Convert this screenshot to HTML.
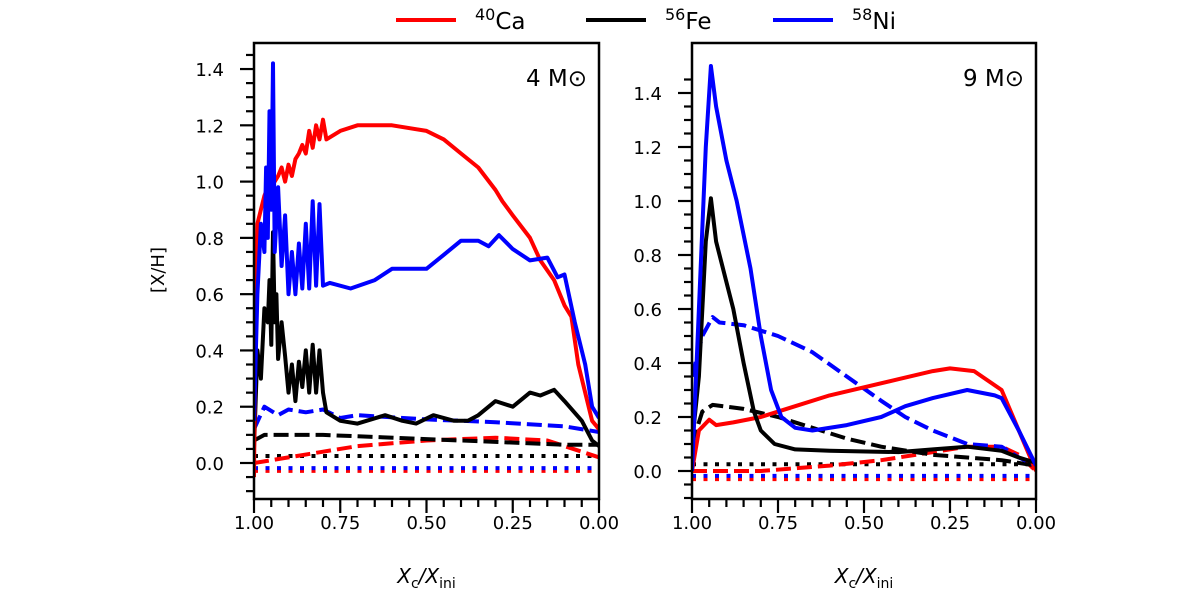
<!DOCTYPE html>
<html><head><meta charset="utf-8"><style>
body{margin:0;background:#fff;}
svg text{font-family:"DejaVu Sans","Liberation Sans",sans-serif;}
</style></head><body>
<svg id="chart" width="1200" height="596" viewBox="0 0 1200 596"></svg>
<script>
// ---- data ----
const xTicks=[1.00,0.75,0.50,0.25,0.00];
const xTickLabels=["1.00","0.75","0.50","0.25","0.00"];
const yTicks=[0,0.2,0.4,0.6,0.8,1.0,1.2,1.4];
const yTickLabels=["0.0","0.2","0.4","0.6","0.8","1.0","1.2","1.4"];
// 4 Msun panel
const L_caSolidX=[1.0,0.995,0.99,0.98,0.97,0.96,0.95,0.94,0.93,0.92,0.91,0.9,0.89,0.88,0.87,0.86,0.85,0.84,0.83,0.82,0.81,0.8,0.79,0.75,0.7,0.6,0.5,0.45,0.4,0.35,0.3,0.28,0.25,0.2,0.17,0.13,0.1,0.08,0.06,0.04,0.02,0.0];
const L_caSolidY=[-0.05,0.6,0.85,0.9,0.95,0.98,1.0,1.0,1.02,1.05,1.0,1.06,1.02,1.08,1.1,1.13,1.1,1.18,1.12,1.2,1.15,1.22,1.15,1.18,1.2,1.2,1.18,1.15,1.1,1.05,0.97,0.93,0.88,0.8,0.72,0.65,0.56,0.52,0.35,0.25,0.15,0.12];
const L_feSolidX=[1.0,0.99,0.98,0.97,0.96,0.955,0.95,0.945,0.94,0.935,0.93,0.92,0.91,0.9,0.89,0.88,0.87,0.86,0.85,0.84,0.83,0.82,0.81,0.8,0.79,0.75,0.7,0.62,0.57,0.53,0.48,0.42,0.38,0.35,0.3,0.25,0.2,0.17,0.13,0.1,0.05,0.02,0.0];
const L_feSolidY=[0.05,0.4,0.3,0.55,0.5,0.65,0.42,0.82,0.5,0.6,0.37,0.5,0.38,0.25,0.35,0.22,0.36,0.27,0.4,0.25,0.42,0.25,0.4,0.25,0.18,0.15,0.14,0.17,0.15,0.14,0.17,0.15,0.15,0.17,0.22,0.2,0.25,0.24,0.26,0.22,0.15,0.08,0.06];
const L_niSolidX=[1.0,0.99,0.98,0.97,0.965,0.96,0.955,0.95,0.945,0.94,0.93,0.92,0.91,0.9,0.89,0.88,0.87,0.86,0.85,0.84,0.83,0.82,0.81,0.8,0.78,0.72,0.65,0.6,0.5,0.45,0.4,0.35,0.32,0.29,0.25,0.2,0.15,0.12,0.1,0.07,0.04,0.02,0.0];
const L_niSolidY=[0.15,0.6,0.85,0.75,1.05,0.8,1.25,0.9,1.42,0.75,0.98,0.7,0.88,0.6,0.75,0.6,0.78,0.62,0.85,0.62,0.93,0.63,0.92,0.63,0.64,0.62,0.65,0.69,0.69,0.74,0.79,0.79,0.77,0.81,0.76,0.72,0.73,0.66,0.67,0.5,0.35,0.2,0.16];
const L_niDashX=[1.0,0.97,0.93,0.9,0.85,0.8,0.75,0.7,0.5,0.3,0.1,0.0];
const L_niDashY=[0.12,0.2,0.17,0.19,0.18,0.19,0.16,0.17,0.155,0.145,0.13,0.11];
const L_feDashX=[1.0,0.97,0.8,0.5,0.3,0.1,0.0];
const L_feDashY=[0.08,0.1,0.1,0.085,0.075,0.065,0.065];
const L_caDashX=[1.0,0.9,0.8,0.7,0.5,0.3,0.15,0.05,0.0];
const L_caDashY=[0.0,0.02,0.04,0.06,0.08,0.09,0.08,0.04,0.02];
const L_feDot=0.025, L_niDot=-0.018, L_caDot=-0.028;
// 9 Msun panel
const R_niSolidX=[1.0,0.98,0.96,0.945,0.93,0.9,0.87,0.83,0.8,0.77,0.74,0.7,0.65,0.55,0.45,0.38,0.3,0.2,0.12,0.1,0.05,0.0];
const R_niSolidY=[0.0,0.6,1.2,1.5,1.35,1.15,1.0,0.75,0.5,0.3,0.2,0.16,0.15,0.17,0.2,0.24,0.27,0.3,0.28,0.27,0.15,0.02];
const R_feSolidX=[1.0,0.98,0.96,0.945,0.93,0.9,0.88,0.85,0.82,0.8,0.76,0.7,0.6,0.4,0.3,0.2,0.1,0.05,0.0];
const R_feSolidY=[0.1,0.35,0.85,1.01,0.85,0.7,0.6,0.4,0.22,0.15,0.1,0.08,0.075,0.07,0.08,0.09,0.075,0.05,0.03];
const R_caSolidX=[1.0,0.98,0.95,0.93,0.88,0.8,0.7,0.6,0.4,0.3,0.25,0.18,0.1,0.05,0.0];
const R_caSolidY=[0.0,0.15,0.19,0.17,0.18,0.2,0.24,0.28,0.34,0.37,0.38,0.37,0.3,0.15,0.0];
const R_niDashX=[1.0,0.97,0.94,0.92,0.85,0.75,0.65,0.55,0.45,0.38,0.3,0.2,0.1,0.05,0.0];
const R_niDashY=[0.35,0.5,0.57,0.55,0.54,0.5,0.44,0.35,0.26,0.2,0.15,0.1,0.09,0.05,0.02];
const R_feDashX=[1.0,0.97,0.94,0.85,0.75,0.65,0.55,0.45,0.3,0.2,0.1,0.0];
const R_feDashY=[0.1,0.22,0.245,0.23,0.2,0.16,0.12,0.09,0.06,0.05,0.04,0.02];
const R_caDashX=[1.0,0.8,0.6,0.45,0.3,0.2,0.1,0.05,0.0];
const R_caDashY=[0.0,0.0,0.02,0.04,0.07,0.09,0.09,0.06,0.0];
const R_feDot=0.025, R_niDot=-0.018, R_caDot=-0.03;

const NS="http://www.w3.org/2000/svg";
const svg=document.getElementById('chart');
function mk(tag,attrs,parent){const e=document.createElementNS(NS,tag);for(const k in attrs)e.setAttribute(k,attrs[k]);(parent||svg).appendChild(e);return e;}
const RED="#ff0000",BLK="#000000",BLU="#0000ff";

function panel(p){
  const g=mk('g',{});
  
  
  const sx=v=>p.x0+(1-v)*(p.x1-p.x0);
  const sy=v=>p.y0-v*p.ppu;
  const clipId=p.name+'-clip';
  const cp=mk('clipPath',{id:clipId},g);
  mk('rect',{x:p.x0,y:p.top,width:p.x1-p.x0,height:p.bot-p.top},cp);
  const lines=mk('g',{'clip-path':'url(#'+clipId+')'},g);
  
  
  function path(xs,ys,color,dash,name){
    let d='';xs.forEach((x,i)=>{d+=(i?'L':'M')+sx(x).toFixed(1)+','+sy(ys[i]).toFixed(1);});
    const e=mk('path',{d:d,fill:'none',stroke:color,'stroke-width':4,'stroke-linejoin':'round'},lines);
    if(dash)e.setAttribute('stroke-dasharray',dash);
    
    
  }
  const dot=(v,c,n)=>path([1,0],[v,v],c,'4,7.5',n);
  dot(p.caDot,RED,'ca-dotted');dot(p.niDot,BLU,'ni-dotted');dot(p.feDot,BLK,'fe-dotted');
  path(p.caDX,p.caDY,RED,'15,6','ca-dashed');
  path(p.feDX,p.feDY,BLK,'15,6','fe-dashed');
  path(p.niDX,p.niDY,BLU,'15,6','ni-dashed');
  p.order.forEach(s=>path(s[0],s[1],s[2],null,s[3]));
  const fr=mk('rect',{x:p.x0,y:p.top,width:p.x1-p.x0,height:p.bot-p.top,fill:'none',stroke:'#000','stroke-width':2.5},g);
  
  for(let v=-0.1;v<=1.5;v+=0.05){
    const vv=Math.round(v*100)/100;const y=sy(vv);
    if(y<p.top-0.5||y>p.bot+0.5)continue;
    const major=Math.abs(vv*10/2-Math.round(vv*10/2))<1e-6;
    mk('line',{x1:p.x0,x2:p.x0-(major?14:8),y1:y,y2:y,stroke:'#000','stroke-width':2.2},g);
  }
  yTicks.forEach((v,i)=>{const t=mk('text',{x:p.x0-30,y:sy(v)+7,'text-anchor':'end','font-size':18},g);t.textContent=yTickLabels[i];
    });
  for(let k=0;k<=20;k++){const v=k/20;const x=sx(v);const major=k%5==0;
    mk('line',{x1:x,x2:x,y1:p.bot,y2:p.bot+(major?14:8),stroke:'#000','stroke-width':2.2},g);}
  xTicks.forEach((v,i)=>{const t=mk('text',{x:sx(v),y:p.bot+30,'text-anchor':'middle','font-size':18},g);t.textContent=xTickLabels[i];
    });
  const xl=mk('text',{x:(p.x0+p.x1)/2,y:583,'text-anchor':'middle','font-size':20,'font-style':'italic'},g);
  xl.innerHTML='X<tspan font-size="14" dy="5" font-style="normal">c</tspan><tspan dy="-5">/X</tspan><tspan font-size="14" dy="5" font-style="normal">ini</tspan>';
  
  const lab=mk('text',{x:p.x1-12,y:86,'text-anchor':'end','font-size':23},g);
  lab.textContent=p.label;
}
panel({name:'panel-4msun',x0:254,x1:599,top:43,bot:499,y0:463,ppu:281.4,label:'4 M\u2299',
  caDot:L_caDot,niDot:L_niDot,feDot:L_feDot,caDX:L_caDashX,caDY:L_caDashY,feDX:L_feDashX,feDY:L_feDashY,niDX:L_niDashX,niDY:L_niDashY,
  order:[[L_feSolidX,L_feSolidY,BLK,'fe-solid'],[L_caSolidX,L_caSolidY,RED,'ca-solid'],[L_niSolidX,L_niSolidY,BLU,'ni-solid']]});
panel({name:'panel-9msun',x0:692,x1:1036,top:43,bot:499,y0:471,ppu:270,label:'9 M\u2299',
  caDot:R_caDot,niDot:R_niDot,feDot:R_feDot,caDX:R_caDashX,caDY:R_caDashY,feDX:R_feDashX,feDY:R_feDashY,niDX:R_niDashX,niDY:R_niDashY,
  order:[[R_caSolidX,R_caSolidY,RED,'ca-solid'],[R_feSolidX,R_feSolidY,BLK,'fe-solid'],[R_niSolidX,R_niSolidY,BLU,'ni-solid']]});
const yt=mk('text',{x:0,y:0,'text-anchor':'middle','font-size':18,transform:'translate(164,270) rotate(-90)'});
yt.textContent='[X/H]';
const leg=mk('g',{});
[[396,RED,'40','Ca'],[586,BLK,'56','Fe'],[773,BLU,'58','Ni']].forEach(e=>{
  const ent=mk('g',{},leg);
  mk('line',{x1:e[0],x2:e[0]+60,y1:20,y2:20,stroke:e[1],'stroke-width':4},ent);
  const t=mk('text',{x:e[0]+79,y:29,'font-size':23},ent);
  t.innerHTML='<tspan font-size="16" dy="-9">'+e[2]+'</tspan><tspan dy="9">'+e[3]+'</tspan>';
});
</script>
</body></html>
